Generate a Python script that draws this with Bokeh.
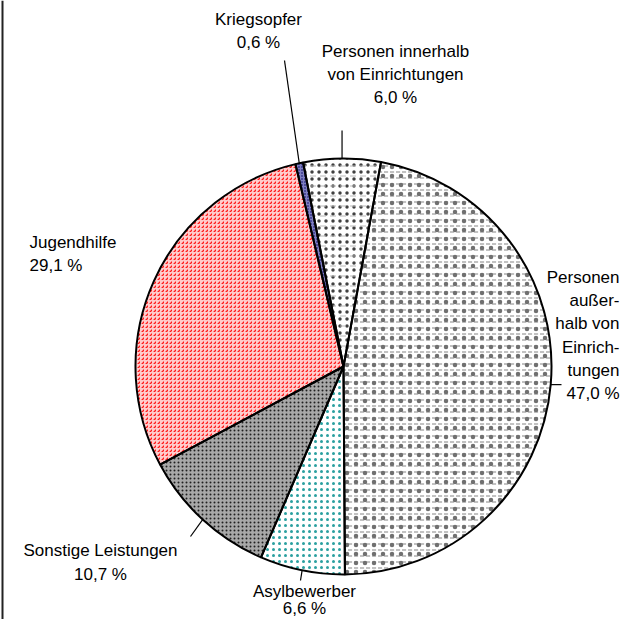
import numpy as np
from bokeh.plotting import figure
from bokeh.models import Range1d, Span
from bokeh.core.properties import value
from bokeh.embed import file_html
from bokeh.resources import INLINE

# ---- data (clockwise order from the first slice) ----
categories = ["Personen außerhalb von Einrichtungen", "Asylbewerber",
              "Sonstige Leistungen", "Jugendhilfe", "Kriegsopfer",
              "Personen innerhalb von Einrichtungen"]
shares = [47.0, 6.6, 10.7, 29.1, 0.6, 6.0]
label_lines = [
    ["Personen", "außer-", "halb von", "Einrich-", "tungen", "47,0 %"],
    ["Asylbewerber", "6,6 %"],
    ["Sonstige Leistungen", "10,7 %"],
    ["Jugendhilfe", "29,1 %"],
    ["Kriegsopfer", "0,6 %"],
    ["Personen innerhalb", "von Einrichtungen", "6,0 %"],
]

W, H = 621, 619
FONT = "Liberation Sans"
FS = "17px"

def X(xi):  # picture x -> data x
    return xi

def Y(yi):  # picture y -> data y (y up)
    return H - yi

p = figure(width=W, height=H, x_range=Range1d(0, W), y_range=Range1d(0, H),
           output_backend="svg", toolbar_location=None, min_border=0)
p.axis.visible = False
p.grid.visible = False
p.outline_line_color = None
p.background_fill_color = "white"
p.border_fill_color = "white"

cx, cy, R = X(343), Y(366), 208
first_angle = 10.4  # clockwise from 12 o'clock

vals = np.array(shares)
cum = np.concatenate([[0], np.cumsum(vals)]) / vals.sum() * 360.0
cw_start = first_angle + cum[:-1]
cw_end = first_angle + cum[1:]
mid = (cw_start + cw_end) / 2
m_start = 90 - cw_start
m_end = 90 - cw_end

styles = [
    dict(fill_color="white", hatch_pattern="horizontal_dash", hatch_color="#999999", hatch_scale=6, hatch_weight=1.2),
    dict(fill_color="white", hatch_pattern="dot", hatch_color="#2aa0a0", hatch_scale=6, hatch_weight=1.2),
    dict(fill_color="#a8a8a8", hatch_pattern="dot", hatch_color="#202020", hatch_scale=4, hatch_weight=1.3),
    dict(fill_color="#ffcccc", hatch_pattern="right_diagonal_dash", hatch_color="#ff1a1a", hatch_scale=4, hatch_weight=1.3),
    dict(fill_color="#8080c0", hatch_pattern="dot", hatch_color="#000066", hatch_scale=3, hatch_weight=1),
    dict(fill_color="white", hatch_pattern="dot", hatch_color="#404040", hatch_scale=7, hatch_weight=0.6),
]
overlays = {
    0: dict(hatch_pattern="dot", hatch_color="#707070", hatch_scale=9, hatch_weight=0.5),
    5: dict(hatch_pattern="horizontal_dash", hatch_color="#b8b8b8", hatch_scale=10, hatch_weight=1),
}

for i in range(len(shares)):
    p.wedge(x=cx, y=cy, radius=R, radius_units="screen",
            start_angle=m_start[i], end_angle=m_end[i], start_angle_units="deg",
            end_angle_units="deg", direction="clock", line_color=None, **styles[i])
    if i in overlays:
        p.wedge(x=cx, y=cy, radius=R, radius_units="screen",
                start_angle=m_start[i], end_angle=m_end[i], start_angle_units="deg",
                end_angle_units="deg", direction="clock", line_color=None,
                fill_alpha=0, **overlays[i])
for i in range(len(shares)):
    p.wedge(x=cx, y=cy, radius=R, radius_units="screen",
            start_angle=m_start[i], end_angle=m_end[i], start_angle_units="deg",
            end_angle_units="deg", direction="clock", fill_alpha=0,
            line_color="black", line_width=2)

def edge_pt(k):
    a = np.deg2rad(90 - mid[k])
    return cx + R * np.cos(a), cy + R * np.sin(a)

leader_ends = {0: (X(561), None), 1: (X(300), Y(580)), 2: (X(190), Y(536)),
               4: (X(284), Y(60)), 5: (None, Y(130))}
for k, (ex, ey) in leader_ends.items():
    sx, sy = edge_pt(k)
    if ex is None:
        ex = sx
    if ey is None:
        ey = sy
    p.segment(x0=[sx], y0=[sy], x1=[ex], y1=[ey], line_color="black", line_width=1.2)

label_pos = {
    0: (619, [277, 300, 323, 347, 370, 393], "right"),
    1: (304, [591, 608], "center"),
    2: (100, [550, 574], "center"),
    3: (29, [242, 265], "left"),
    4: (258, [19, 42], "center"),
    5: (395, [51, 74, 97], "center"),
}
for k, (ax, ys, al) in label_pos.items():
    lines = label_lines[k]
    p.text(x=[X(ax)] * len(lines), y=[Y(yy) for yy in ys], text=lines,
           text_font=value(FONT), text_font_size=FS, text_color="black",
           text_align=al, text_baseline="middle")

p.add_layout(Span(location=2, dimension="height", line_color="#222222", line_width=2))

open("out.html", "w").write(file_html(p, INLINE))
